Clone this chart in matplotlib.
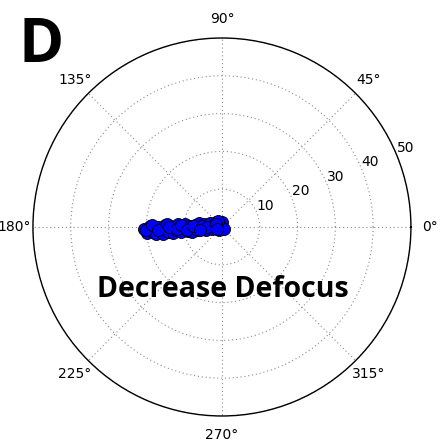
import numpy as np
import matplotlib.pyplot as plt

# defocus points: angle (deg) and magnitude
theta_deg = [181.4, 184.3, 179.1, 183.8, 186.0, 180.0, 183.5, 186.5, 178.1, 185.6,
             179.2, 187.0, 183.7, 176.1, 186.8, 181.7, 175.5, 186.6, 178.0, 189.0,
             175.5, 186.9, 171.0, 184.2, 172.0, 192.0, 173.7, 160.0, 193.7, 163.0,
             140.0, 222.0, 130.0, 84.0, 315.0, 125.0, 182.0, 178.5, 182.5, 177.0,
             180.5, 183.0, 177.5, 184.5, 179.0, 176.5, 181.0, 188.0, 150.0, 200.0]
r_vals = [20.6, 19.9, 19.0, 18.2, 17.6, 17.0, 16.2, 15.6, 15.0, 14.3,
          13.5, 13.1, 12.3, 11.6, 11.0, 10.3, 9.7, 9.0, 8.4, 7.9,
          7.2, 6.6, 6.1, 5.4, 4.9, 4.3, 3.6, 3.3, 2.6, 2.2,
          2.2, 1.2, 0.8, 1.4, 0.9, 2.0, 20.0, 18.6, 16.8, 14.6,
          13.9, 11.8, 10.8, 9.4, 7.6, 5.2, 4.0, 5.8, 1.8, 1.5]

fig = plt.figure(figsize=(4.48, 4.46), dpi=100)
ax = fig.add_axes([0.0714, 0.0673, 0.848, 0.8475], projection='polar')

ax.scatter(np.radians(theta_deg), r_vals, s=75, c='blue', edgecolors='black',
           linewidths=0.6, zorder=3)

ax.set_ylim(0, 50)
ax.set_yticks([10, 20, 30, 40, 50])
ax.set_rlabel_position(22.5)
ax.set_thetagrids(np.arange(0, 360, 45))
ax.grid(True, linestyle=(0, (1, 2.5)), color='0.55', linewidth=0.8)
ax.tick_params(axis='x', labelsize=10, pad=3)
ax.tick_params(axis='y', labelsize=10)
ax.spines['polar'].set_linewidth(1.0)

fig.text(0.092, 0.895, 'D', fontsize=44, fontweight='bold', ha='center', va='center',
         family='Open Sans')
fig.text(0.497, 0.35, 'Decrease Defocus', fontsize=20.5, fontweight='bold',
         ha='center', va='center', family='Open Sans')

fig.savefig('out.png', dpi=100)
